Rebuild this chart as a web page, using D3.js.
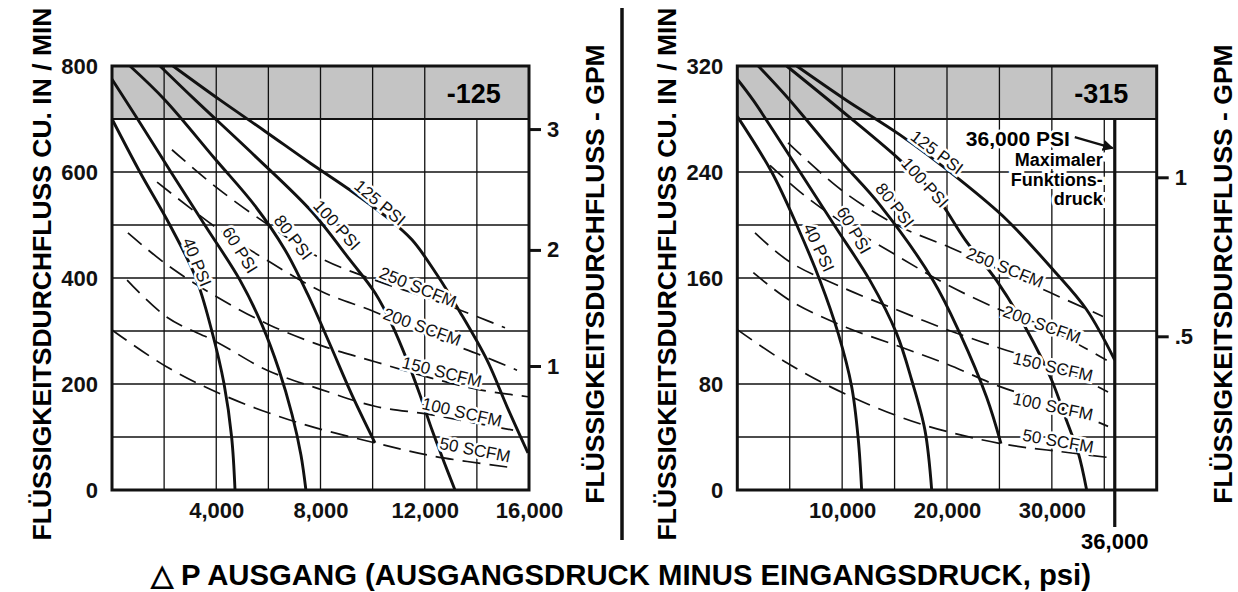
<!DOCTYPE html>
<html>
<head>
<meta charset="utf-8">
<script src="https://cdn.jsdelivr.net/npm/d3@7"></script>
<style>
  body { margin: 0; background: #fff; }
  svg { display: block; }
  text { font-family: "Liberation Sans", Arial, Helvetica, sans-serif; }
</style>
</head>
<body>
<script>
// ---- data: [psi, cu in/min] ----
const psiLabels = ["40 PSI", "60 PSI", "80 PSI", "100 PSI", "125 PSI"];
const scfmLabels = ["250 SCFM", "200 SCFM", "150 SCFM", "100 SCFM", "50 SCFM"];

const leftPsi = [
  [[0,700],[1070,600],[2220,500],[3220,400],[3830,300],[4300,200],[4590,100],[4720,0]],
  [[0,775],[980,700],[2260,600],[3560,500],[4910,396],[5760,311],[6410,226],[6910,142],[7250,66],[7440,0]],
  [[690,800],[2030,736],[3950,625],[5490,536],[6640,453],[7520,368],[8370,274],[9210,179],[10090,89]],
  [[1840,800],[3190,736],[5490,630],[7670,525],[9130,434],[10090,372],[10780,308],[11320,245],[11820,179],[12280,113],[12740,53],[13160,0]],
  [[2340,800],[4140,736],[5870,677],[7600,617],[9130,566],[10480,517],[11510,472],[12470,406],[13350,336],[14390,245],[15160,157],[15960,70]]
];
const leftScfm = [
  [[2300,642],[4030,570],[6060,498],[8060,436],[10090,396],[12120,362],[14120,325],[15080,306]],
  [[1730,581],[4030,494],[6060,430],[8060,374],[10090,336],[12120,292],[14120,255],[15540,226]],
  [[610,485],[2110,425],[4030,364],[6060,311],[8060,272],[10090,242],[12120,213],[14120,189],[15960,176]],
  [[580,396],[2110,326],[4030,279],[5950,226],[8060,189],[10090,158],[12120,143],[13740,128],[15390,113]],
  [[0,302],[2110,232],[4410,176],[7210,126],[10090,89],[12320,64],[15390,42]]
];
const leftPsiLabelAt = [[3260,430],[4910,453],[6950,477],[8630,500],[10280,542]];
const leftPsiLabelAngle = [68, 58, 53, 48, 40];
const leftScfmLabelAt = [[11740,383],[11900,308],[12660,223],[13430,147],[13930,76]];
const leftScfmLabelAngle = [22, 20, 14, 13, 11];

const rightPsi = [
  [[0,282],[3280,240],[5670,200],[7890,158],[9630,118],[10910,78],[11540,38],[11860,0]],
  [[0,310],[1530,294],[5980,240],[9320,199],[12660,158],[15200,118],[16630,83],[17900,45],[18540,0]],
  [[2000,320],[5030,294],[9790,249],[13610,215],[18690,158],[21240,118],[23780,70],[25150,35]],
  [[4710,320],[10750,281],[15520,249],[18860,223],[21720,189],[24740,158],[27600,121],[29980,83],[31420,52],[32520,28],[33320,0]],
  [[5670,320],[10430,294],[15520,268],[21240,234],[25690,204],[30140,166],[33320,136],[36000,98]]
];
const rightScfm = [
  [[4840,262],[9990,226],[15200,200],[20290,183],[25060,166],[29830,149],[34880,131]],
  [[3120,245],[5980,225],[9990,202],[15200,177],[20000,155],[25060,136],[29060,124],[35230,98]],
  [[1690,194],[5030,172],[9990,153],[15200,136],[20000,121],[25060,107],[30110,94],[35360,74]],
  [[1530,164],[5030,143],[9990,124],[15200,109],[20000,95],[25060,78],[30110,65],[35360,48]],
  [[0,121],[4710,96],[10430,72],[17420,50],[25150,35],[30780,29],[36000,24]]
];
const rightPsiLabelAt = [[7790,183],[11130,196],[15040,215],[17900,232],[19050,255]];
const rightPsiLabelAngle = [65, 60, 52, 48, 37];
const rightScfmLabelAt = [[25530,168],[29060,125],[30110,93],[30110,63],[30590,37]];
const rightScfmLabelAngle = [22, 20, 13, 12, 10];

const leftXTicks = [4000, 8000, 12000, 16000];
const leftYTicks = [0, 200, 400, 600, 800];
const leftGpmTicks = [1, 2, 3];
const leftGpmFlow = [234, 453, 681];
const rightXTicks = [10000, 20000, 30000];
const rightYTicks = [0, 80, 160, 240, 320];
const rightGpmTicks = [0.5, 1];
const rightGpmFlow = [116, 236];
const rightGpmLabels = [".5", "1"];
const maxPsi = 36000;
const arrowFlow = 258;

// ---- layout ----
const W = 1238, H = 592;
const plotTop = 66, plotBottom = 490;
const tickFont = "22px";

const svg = d3.select("body").append("svg")
  .attr("width", W)
  .attr("height", H);

const curve = d3.curveCatmullRom.alpha(0.5);

function panel(opt) {
  const x = d3.scaleLinear().domain([0, opt.xMax]).range([opt.left, opt.right]);
  const y = d3.scaleLinear().domain([0, opt.yMax]).range([plotBottom, plotTop]);
  const g = svg.append("g");

  // grey band on top
  g.append("rect")
    .attr("x", x(0)).attr("y", y(opt.yMax))
    .attr("width", x(opt.xMax) - x(0))
    .attr("height", y(opt.shadeFrom) - y(opt.yMax))
    .attr("fill", "#c4c4c4");

  // grid
  const xs = d3.range(opt.xStep, opt.xMax, opt.xStep);
  const ys = d3.range(opt.yStep, opt.yMax, opt.yStep);
  g.selectAll(".vgrid").data(xs).enter().append("line")
    .attr("x1", d => x(d)).attr("x2", d => x(d))
    .attr("y1", d => d === opt.xMax - opt.xStep ? y(opt.shadeFrom) : y(opt.yMax))
    .attr("y2", y(0))
    .attr("stroke", "#111").attr("stroke-width", 1.3);
  g.selectAll(".hgrid").data(ys).enter().append("line")
    .attr("x1", x(0)).attr("x2", x(opt.xMax))
    .attr("y1", d => y(d)).attr("y2", d => y(d))
    .attr("stroke", "#111").attr("stroke-width", d => d === opt.shadeFrom ? 2 : 1.3);

  const line = d3.line().x(d => x(d[0])).y(d => y(d[1])).curve(curve);

  g.selectAll(".scfm").data(opt.scfm).enter().append("path")
    .attr("d", line)
    .attr("fill", "none")
    .attr("stroke", "#111")
    .attr("stroke-width", 1.7)
    .attr("stroke-dasharray", "18,9");

  g.selectAll(".psi").data(opt.psi).enter().append("path")
    .attr("d", line)
    .attr("fill", "none")
    .attr("stroke", "#111")
    .attr("stroke-width", 2.9);

  if (opt.maxLine) {
    g.append("line")
      .attr("x1", x(maxPsi)).attr("x2", x(maxPsi))
      .attr("y1", y(opt.shadeFrom)).attr("y2", plotBottom + 37)
      .attr("stroke", "#111").attr("stroke-width", 3.2);
    g.append("text")
      .attr("x", x(maxPsi)).attr("y", plotBottom + 59)
      .attr("text-anchor", "middle")
      .attr("font-size", tickFont).attr("font-weight", "bold")
      .text(d3.format(",")(maxPsi));
  }

  // frame
  g.append("rect")
    .attr("x", x(0)).attr("y", y(opt.yMax))
    .attr("width", x(opt.xMax) - x(0))
    .attr("height", y(0) - y(opt.yMax))
    .attr("fill", "none").attr("stroke", "#111").attr("stroke-width", 3);

  // curve labels with white halo
  function labels(names, at, ang) {
    g.selectAll(null).data(names).enter().append("text")
      .attr("transform", (d, i) => `translate(${x(at[i][0])},${y(at[i][1])}) rotate(${ang[i]})`)
      .attr("text-anchor", "middle")
      .attr("dy", "0.35em")
      .attr("font-size", "17px")
      .attr("fill", "#111")
      .attr("stroke", "#fff").attr("stroke-width", 5)
      .attr("paint-order", "stroke")
      .text(d => d);
  }
  labels(psiLabels, opt.psiAt, opt.psiAng);
  labels(scfmLabels, opt.scfmAt, opt.scfmAng);

  // tag in the grey band
  g.append("text")
    .attr("x", (x(opt.xMax - 2 * opt.xStep) + x(opt.xMax)) / 2 - 3)
    .attr("y", y(opt.yMax) + 37)
    .attr("text-anchor", "middle")
    .attr("font-size", "27px").attr("font-weight", "bold")
    .text(opt.tag);

  // axes
  const ax = g.append("g").attr("transform", `translate(0,${plotBottom})`)
    .call(d3.axisBottom(x).tickValues(opt.xTicks).tickSize(0).tickPadding(12).tickFormat(d3.format(",")));
  ax.select(".domain").remove();
  const ay = g.append("g").attr("transform", `translate(${opt.left},0)`)
    .call(d3.axisLeft(y).tickValues(opt.yTicks).tickSize(0).tickPadding(14));
  ay.select(".domain").remove();
  const gpm = d3.scaleLinear().domain(opt.gpmTicks).range(opt.gpmFlow.map(y));
  const ag = g.append("g").attr("transform", `translate(${opt.right},0)`)
    .call(d3.axisRight(gpm).tickValues(opt.gpmTicks).tickSize(12).tickPadding(6)
      .tickFormat((d, i) => opt.gpmLabels[i]));
  ag.select(".domain").remove();
  ag.selectAll("line").attr("stroke", "#111").attr("stroke-width", 3);
  [ax, ay, ag].forEach(a => a
    .attr("font-family", "Liberation Sans, Arial, sans-serif")
    .attr("font-size", tickFont)
    .attr("font-weight", "bold")
    .selectAll("text").attr("fill", "#111"));

  // axis titles
  g.append("text")
    .attr("transform", `translate(${opt.left - 61},274) rotate(-90)`)
    .attr("text-anchor", "middle")
    .attr("font-size", "26.5px").attr("font-weight", "bold")
    .text("FLÜSSIGKEITSDURCHFLUSS CU. IN / MIN");
  g.append("text")
    .attr("transform", `translate(${opt.right + 75},274) rotate(-90)`)
    .attr("text-anchor", "middle")
    .attr("font-size", "26.5px").attr("font-weight", "bold")
    .text("FLÜSSIGKEITSDURCHFLUSS - GPM");

  return {x, y, g};
}

panel({
  left: 112, right: 529, xMax: 16000, yMax: 800, shadeFrom: 700, xStep: 2000, yStep: 100,
  psi: leftPsi, scfm: leftScfm,
  psiAt: leftPsiLabelAt, psiAng: leftPsiLabelAngle,
  scfmAt: leftScfmLabelAt, scfmAng: leftScfmLabelAngle,
  xTicks: leftXTicks, yTicks: leftYTicks,
  gpmTicks: leftGpmTicks, gpmFlow: leftGpmFlow, gpmLabels: leftGpmTicks.map(String),
  tag: "-125"
});

const R = panel({
  left: 737.3, right: 1156.7, xMax: 40000, yMax: 320, shadeFrom: 280, xStep: 5000, yStep: 40,
  psi: rightPsi, scfm: rightScfm,
  psiAt: rightPsiLabelAt, psiAng: rightPsiLabelAngle,
  scfmAt: rightScfmLabelAt, scfmAng: rightScfmLabelAngle,
  xTicks: rightXTicks, yTicks: rightYTicks,
  gpmTicks: rightGpmTicks, gpmFlow: rightGpmFlow, gpmLabels: rightGpmLabels,
  tag: "-315", maxLine: true
});

// max pressure note
const tipX = R.x(maxPsi) - 2, tipY = R.y(arrowFlow);
svg.append("defs").append("marker")
  .attr("id", "ah").attr("viewBox", "0 0 10 10")
  .attr("refX", 9).attr("refY", 5)
  .attr("markerWidth", 5).attr("markerHeight", 5)
  .attr("orient", "auto")
  .append("path").attr("d", "M0,0L10,5L0,10z").attr("fill", "#111");
svg.append("line")
  .attr("x1", tipX - 38).attr("y1", tipY - 11)
  .attr("x2", tipX).attr("y2", tipY)
  .attr("stroke", "#111").attr("stroke-width", 2.2)
  .attr("marker-end", "url(#ah)");
svg.append("text")
  .attr("x", tipX - 43).attr("y", tipY - 2)
  .attr("text-anchor", "end")
  .attr("font-size", "21px").attr("font-weight", "bold")
  .attr("stroke", "#fff").attr("stroke-width", 5).attr("paint-order", "stroke")
  .text("36,000 PSI");
const note = svg.append("text")
  .attr("text-anchor", "end")
  .attr("font-size", "18px").attr("font-weight", "bold")
  .attr("stroke", "#fff").attr("stroke-width", 6).attr("paint-order", "stroke");
["Maximaler", "Funktions-", "druck"].forEach((t, i) => {
  note.append("tspan").attr("x", tipX - 10).attr("y", tipY + 18 + i * 19.5).text(t);
});

// separator and bottom title
svg.append("line")
  .attr("x1", 622).attr("x2", 622).attr("y1", 8).attr("y2", 540)
  .attr("stroke", "#111").attr("stroke-width", 3.5);
svg.append("text")
  .attr("x", 621).attr("y", 585)
  .attr("text-anchor", "middle")
  .attr("font-size", "29.3px").attr("font-weight", "bold")
  .text("△ P AUSGANG (AUSGANGSDRUCK MINUS EINGANGSDRUCK, psi)");
</script>
</body>
</html>
